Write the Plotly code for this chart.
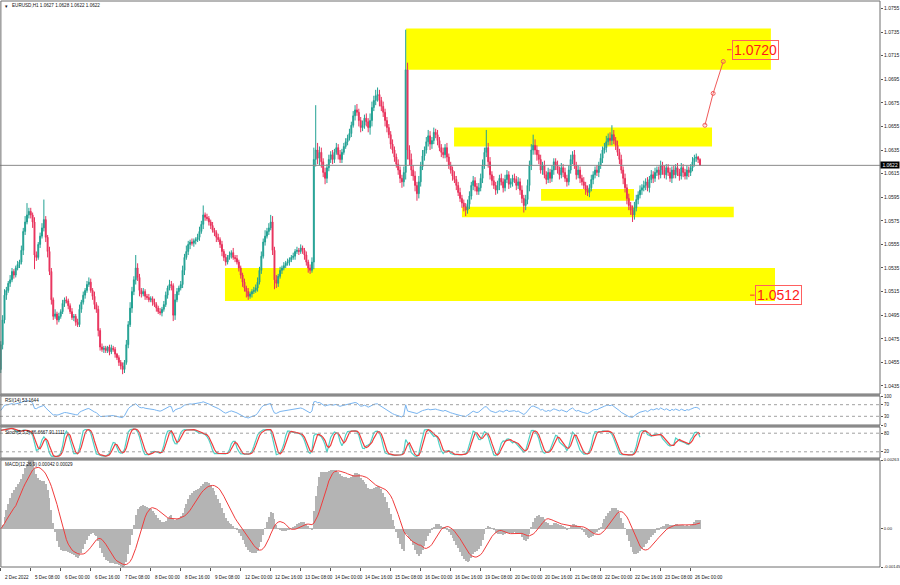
import numpy as np
import plotly.graph_objects as go

# ---------------- data ----------------
title_text = "EURUSD,H1 1.0627 1.0628 1.0622 1.0622"
rsi_label = "RSI(14) 53.1644"
stoch_label = "Stoch(5,3,3) 86.6667 91.1111"
macd_label = "MACD(12,26,9) 0.00042 0.00029"

first_open = 1.0449
close = [
    1.0470, 1.0491, 1.0512, 1.0516, 1.0522, 1.0525, 1.0532, 1.0529,
    1.0535, 1.0538, 1.0540, 1.0550, 1.0566, 1.0574, 1.0580, 1.0583,
    1.0580, 1.0574, 1.0546, 1.0544, 1.0555, 1.0562, 1.0569, 1.0576,
    1.0561, 1.0549, 1.0532, 1.0508, 1.0494, 1.0496, 1.0491, 1.0494,
    1.0498, 1.0505, 1.0508, 1.0507, 1.0503, 1.0498, 1.0493, 1.0494,
    1.0489, 1.0487, 1.0500, 1.0506, 1.0512, 1.0516, 1.0521, 1.0523,
    1.0516, 1.0511, 1.0504, 1.0500, 1.0482, 1.0468, 1.0466, 1.0467,
    1.0465, 1.0468, 1.0464, 1.0467, 1.0466, 1.0462, 1.0459, 1.0455,
    1.0452, 1.0449, 1.0455, 1.0470, 1.0487, 1.0501, 1.0515, 1.0525,
    1.0535, 1.0527, 1.0516, 1.0513, 1.0515, 1.0511, 1.0510, 1.0508,
    1.0509, 1.0506, 1.0504, 1.0501, 1.0498, 1.0497, 1.0500, 1.0504,
    1.0512, 1.0518, 1.0521, 1.0520, 1.0495, 1.0508, 1.0515, 1.0518,
    1.0521, 1.0533, 1.0544, 1.0549, 1.0555, 1.0557, 1.0556, 1.0558,
    1.0559, 1.0561, 1.0566, 1.0572, 1.0580, 1.0578, 1.0577, 1.0574,
    1.0571, 1.0567, 1.0565, 1.0561, 1.0559, 1.0555, 1.0549, 1.0544,
    1.0540, 1.0544, 1.0546, 1.0548, 1.0544, 1.0543, 1.0540, 1.0535,
    1.0529, 1.0523, 1.0518, 1.0515, 1.0511, 1.0513, 1.0515, 1.0516,
    1.0518, 1.0523, 1.0533, 1.0545, 1.0557, 1.0562, 1.0566, 1.0569,
    1.0574, 1.0550, 1.0525, 1.0522, 1.0528, 1.0533, 1.0535, 1.0537,
    1.0539, 1.0540, 1.0542, 1.0544, 1.0545, 1.0549, 1.0550, 1.0549,
    1.0552, 1.0550, 1.0546, 1.0540, 1.0535, 1.0533, 1.0540, 1.0627,
    1.0635, 1.0628, 1.0633, 1.0625, 1.0616, 1.0611, 1.0620, 1.0627,
    1.0631, 1.0627, 1.0633, 1.0637, 1.0631, 1.0627, 1.0633, 1.0638,
    1.0642, 1.0645, 1.0649, 1.0656, 1.0664, 1.0669, 1.0667, 1.0660,
    1.0654, 1.0656, 1.0662, 1.0659, 1.0654, 1.0660, 1.0671, 1.0677,
    1.0681, 1.0682, 1.0677, 1.0672, 1.0667, 1.0660, 1.0654, 1.0648,
    1.0640, 1.0635, 1.0629, 1.0623, 1.0618, 1.0611, 1.0608, 1.0616,
    1.0703, 1.0635, 1.0627, 1.0618, 1.0613, 1.0605, 1.0598, 1.0608,
    1.0621, 1.0630, 1.0635, 1.0642, 1.0647, 1.0640, 1.0643, 1.0650,
    1.0648, 1.0643, 1.0637, 1.0633, 1.0631, 1.0637, 1.0629, 1.0622,
    1.0618, 1.0613, 1.0610, 1.0605, 1.0599, 1.0594, 1.0590, 1.0587,
    1.0584, 1.0589, 1.0596, 1.0605, 1.0609, 1.0604, 1.0600, 1.0603,
    1.0611, 1.0622, 1.0633, 1.0637, 1.0625, 1.0614, 1.0609, 1.0605,
    1.0601, 1.0605, 1.0611, 1.0608, 1.0603, 1.0610, 1.0614, 1.0606,
    1.0608, 1.0611, 1.0610, 1.0605, 1.0608, 1.0601, 1.0594, 1.0588,
    1.0593, 1.0605, 1.0622, 1.0635, 1.0639, 1.0635, 1.0631, 1.0627,
    1.0618, 1.0622, 1.0614, 1.0610, 1.0616, 1.0611, 1.0618, 1.0625,
    1.0622, 1.0618, 1.0614, 1.0620, 1.0616, 1.0611, 1.0608, 1.0618,
    1.0627, 1.0631, 1.0622, 1.0614, 1.0618, 1.0611, 1.0608, 1.0605,
    1.0601, 1.0599, 1.0603, 1.0610, 1.0614, 1.0618, 1.0616, 1.0622,
    1.0628, 1.0635, 1.0637, 1.0642, 1.0645, 1.0643, 1.0648, 1.0643,
    1.0639, 1.0633, 1.0627, 1.0618, 1.0611, 1.0603, 1.0594, 1.0588,
    1.0584, 1.0580, 1.0586, 1.0593, 1.0597, 1.0601, 1.0603, 1.0605,
    1.0608, 1.0603, 1.0610, 1.0614, 1.0611, 1.0616, 1.0618, 1.0614,
    1.0622, 1.0618, 1.0614, 1.0620, 1.0616, 1.0611, 1.0618, 1.0614,
    1.0620, 1.0616, 1.0613, 1.0620, 1.0616, 1.0613, 1.0618, 1.0616,
    1.0620, 1.0625, 1.0628, 1.0629, 1.0627, 1.0622,
]
# estimated upper / lower wick lengths in pips, per bar
upper_wick_pips = [
    3, 4, 5, 3, 2, 4, 3, 2,  2, 3, 2, 4, 3, 5, 4, 3,  3, 2, 4, 3, 2, 3, 4, 2,
    3, 2, 4, 3, 2, 4, 2, 3,  2, 3, 2, 3, 2, 2, 3, 2,  2, 3, 4, 2, 3, 2, 3, 4,
    3, 2, 4, 2, 3, 2, 3, 2,  2, 1, 2, 3, 2, 2, 1, 2,  2, 3, 2, 4, 3, 5, 4, 3,
    3, 4, 3, 2, 3, 2, 2, 3,  2, 2, 3, 2, 2, 3, 2, 3,  3, 2, 4, 3, 2, 5, 3, 2,
    3, 4, 3, 5, 3, 2, 3, 2,  2, 3, 4, 3, 3, 2, 3, 2,  2, 3, 2, 2, 3, 2, 3, 2,
    3, 2, 3, 2, 4, 2, 3, 2,  2, 2, 3, 2, 3, 2, 2, 3,  3, 4, 3, 4, 3, 5, 3, 4,
    3, 5, 3, 4, 2, 3, 2, 3,  2, 3, 2, 2, 3, 2, 3, 2,  3, 2, 2, 3, 2, 3, 4, 5,
    4, 6, 5, 4, 3, 4, 3, 4,  3, 4, 3, 4, 3, 4, 3, 3,  3, 3, 4, 3, 4, 3, 5, 3,
    3, 4, 3, 4, 3, 6, 5, 4,  5, 6, 4, 3, 4, 3, 3, 3,  3, 4, 3, 3, 4, 3, 3, 5,
    5, 6, 4, 5, 4, 4, 3, 5,  4, 5, 3, 4, 5, 4, 3, 4,  3, 4, 3, 3, 4, 3, 4, 3,
    3, 3, 4, 3, 3, 4, 3, 3,  3, 4, 4, 3, 4, 3, 3, 4,  4, 5, 4, 5, 4, 4, 3, 4,
    3, 4, 3, 4, 3, 4, 4, 3,  3, 3, 4, 3, 4, 3, 4, 3,  4, 5, 4, 5, 4, 5, 4, 4,
    4, 3, 4, 3, 4, 3, 4, 3,  3, 4, 3, 4, 3, 4, 3, 4,  4, 3, 4, 3, 4, 3, 3, 4,
    3, 4, 3, 4, 3, 3, 4, 3,  4, 3, 4, 5, 4, 5, 4, 4,  3, 4, 3, 4, 3, 4, 3, 4,
    3, 4, 5, 4, 3, 4, 3, 4,  3, 4, 3, 4, 3, 4, 3, 3,  4, 3, 4, 3, 3, 4, 3, 4,
    3, 4, 3, 4, 3, 3, 4, 3,  3, 4, 3, 3, 1, 1,
]
lower_wick_pips = [
    3, 4, 3, 4, 2, 3, 2, 3,  2, 2, 3, 2, 4, 3, 2, 3,  3, 5, 4, 3, 2, 3, 2, 3,
    4, 5, 3, 4, 3, 2, 4, 2,  2, 2, 3, 2, 3, 2, 2, 3,  3, 2, 2, 3, 2, 3, 2, 2,
    2, 3, 4, 3, 5, 3, 2, 3,  2, 2, 3, 2, 2, 3, 2, 3,  3, 4, 3, 2, 3, 2, 4, 3,
    4, 3, 5, 3, 2, 3, 2, 2,  2, 3, 2, 3, 2, 2, 3, 2,  2, 3, 2, 4, 3, 4, 2, 3,
    2, 3, 4, 2, 3, 4, 2, 3,  3, 2, 3, 2, 4, 3, 2, 3,  3, 2, 3, 4, 2, 3, 4, 3,
    3, 2, 2, 3, 2, 3, 2, 3,  3, 4, 3, 5, 3, 2, 3, 2,  2, 3, 2, 3, 2, 3, 2, 3,
    2, 4, 3, 4, 3, 2, 3, 2,  2, 2, 3, 2, 2, 3, 2, 3,  2, 3, 4, 3, 4, 3, 2, 6,
    6, 5, 6, 5, 4, 5, 4, 3,  3, 4, 3, 2, 4, 3, 3, 2,  2, 3, 2, 3, 2, 4, 3, 5,
    4, 3, 3, 4, 4, 6, 5, 3,  4, 5, 5, 4, 4, 5, 4, 3,  4, 3, 4, 3, 4, 4, 5, 4,
    6, 8, 5, 5, 4, 5, 6, 4,  4, 3, 4, 3, 4, 5, 4, 3,  3, 4, 3, 4, 3, 3, 4, 3,
    3, 4, 3, 4, 3, 3, 4, 4,  4, 3, 4, 3, 4, 4, 3, 3,  3, 4, 3, 4, 5, 4, 4, 3,
    4, 3, 4, 3, 4, 3, 3, 4,  3, 4, 3, 4, 3, 4, 4, 3,  4, 4, 5, 4, 4, 4, 5, 4,
    3, 4, 3, 4, 3, 4, 3, 4,  4, 3, 4, 3, 4, 3, 4, 3,  3, 4, 3, 4, 3, 4, 3, 3,
    4, 3, 4, 3, 4, 3, 3, 4,  3, 4, 3, 4, 3, 4, 4, 3,  4, 3, 4, 3, 5, 4, 5, 4,
    4, 3, 4, 3, 4, 3, 4, 3,  4, 3, 4, 3, 4, 3, 3, 4,  3, 4, 3, 4, 3, 3, 4, 3,
    3, 3, 4, 3, 4, 3, 3, 4,  3, 3, 4, 3, 3, 0,
]
# clearly visible long wick extremes (bar index -> price)
high_ext = {14: 1.0590, 23: 1.0593, 72: 1.0546, 108: 1.0588, 144: 1.0580,
            167: 1.0637, 168: 1.0673, 189: 1.0673, 201: 1.0688, 216: 1.0737,
            259: 1.0652, 284: 1.0648, 326: 1.0656}
low_ext = {0: 1.0446, 18: 1.0534, 65: 1.0445, 92: 1.0490, 146: 1.0517,
           222: 1.0593, 248: 1.0579, 279: 1.0582, 337: 1.0574}

x_tick_idx = [0, 16, 32, 48, 64, 80, 96, 112, 128, 144, 160, 176, 192, 208,
              224, 240, 256, 272, 288, 304, 320, 336, 352, 368]
x_tick_text = ["2 Dec 2022", "5 Dec 08:00", "6 Dec 00:00", "6 Dec 16:00",
               "7 Dec 08:00", "8 Dec 00:00", "8 Dec 16:00", "9 Dec 08:00",
               "12 Dec 00:00", "12 Dec 16:00", "13 Dec 08:00", "14 Dec 00:00",
               "14 Dec 16:00", "15 Dec 08:00", "16 Dec 00:00", "16 Dec 16:00",
               "19 Dec 08:00", "20 Dec 00:00", "20 Dec 16:00", "21 Dec 08:00",
               "22 Dec 00:00", "22 Dec 16:00", "23 Dec 08:00", "26 Dec 00:00"]

price_ticks = [1.0435, 1.0455, 1.0475, 1.0495, 1.0515, 1.0535, 1.0555, 1.0575,
               1.0595, 1.0615, 1.0635, 1.0655, 1.0675, 1.0695, 1.0715, 1.0735, 1.0755]
price_tick_text = ["1.0435", "1.0455", "1.0475", "1.0495", "1.0515", "1.0535",
                   "1.0555", "1.0575", "1.0595", "1.0615", "1.0635", "1.0655",
                   "1.0675", "1.0695", "1.0715", "1.0735", "1.0755"]
current_price = 1.0622

# yellow zones: bar-index extent and price extent
zone_x0 = [216.2, 241.8, 288.2, 246.0, 119.6]
zone_x1 = [410.8, 379.4, 337.8, 391.0, 413.0]
zone_lo = [1.0703, 1.0638, 1.0592, 1.0578, 1.0507]
zone_hi = [1.0738, 1.0654, 1.0602, 1.0587, 1.0535]

# projected path drawing
path_idx = [375.6, 380.0, 385.4]
path_price = [1.0656, 1.0683, 1.0710]

# price level labels
level_values = [1.0720, 1.0512]
level_text = ["1.0720", "1.0512"]
level_label_idx = [390.0, 402.3]

macd_ticks = [0.00263, 0.0, -0.00145]
macd_tick_text = ["0.00263", "0.00", "-0.00145"]

# ---------------- derived series ----------------
n = len(close)
idx = np.arange(n)
c = np.array(close)
o = np.concatenate([[first_open], c[:-1]])
h = np.maximum(o, c) + np.array(upper_wick_pips) * 0.0001
l = np.minimum(o, c) - np.array(lower_wick_pips) * 0.0001
for k, v in high_ext.items():
    h[k] = max(h[k], v)
for k, v in low_ext.items():
    l[k] = min(l[k], v)


def ema(a, p):
    al = 2.0 / (p + 1)
    out = np.empty_like(a)
    out[0] = a[0]
    for i in range(1, len(a)):
        out[i] = al * a[i] + (1 - al) * out[i - 1]
    return out


def sma(a, p):
    out = np.empty_like(a)
    for i in range(len(a)):
        out[i] = a[max(0, i - p + 1): i + 1].mean()
    return out


macd = ema(c, 12) - ema(c, 26)
signal = sma(macd, 9)

# RSI 14 (Wilder)
d = np.diff(c, prepend=c[0])
gain = np.where(d > 0, d, 0.0)
loss = np.where(d < 0, -d, 0.0)
ag = np.empty(n); al_ = np.empty(n)
ag[0] = 0.0003; al_[0] = 0.0003
for i in range(1, n):
    ag[i] = (ag[i - 1] * 13 + gain[i]) / 14
    al_[i] = (al_[i - 1] * 13 + loss[i]) / 14
rsi = 100 - 100 / (1 + ag / np.maximum(al_, 1e-9))

# Stochastic 5,3,3
num = np.empty(n); den = np.empty(n)
for i in range(n):
    lo5 = l[max(0, i - 4): i + 1].min()
    hi5 = h[max(0, i - 4): i + 1].max()
    num[i] = c[i] - lo5
    den[i] = hi5 - lo5
k_line = np.empty(n)
for i in range(n):
    s_n = num[max(0, i - 2): i + 1].sum()
    s_d = den[max(0, i - 2): i + 1].sum()
    k_line[i] = 100 * s_n / s_d if s_d > 0 else 50
d_line = sma(k_line, 3)

# ---------------- layout helpers (pixel geometry) ----------------
W, H = 900, 585
PT, PB = 1, 567
PLOT_W = 880


def fy(p):
    return (PB - p) / (PB - PT)


def fx(p):
    return p / PLOT_W


main_dom = [fy(394), 1.0]
rsi_dom = [fy(425), fy(396)]
sto_dom = [fy(458), fy(427)]
macd_dom = [0.0, fy(460)]

UP = "#22a193"
DN = "#e8325c"
FONT = "Liberation Sans"

fig = go.Figure()

fig.add_trace(go.Candlestick(
    x=idx, open=o, high=h, low=l, close=c,
    increasing=dict(line=dict(color=UP, width=1), fillcolor=UP),
    decreasing=dict(line=dict(color=DN, width=1), fillcolor=DN),
    whiskerwidth=0, xaxis="x", yaxis="y", showlegend=False, hoverinfo="skip"))

fig.add_trace(go.Scatter(
    x=path_idx, y=path_price, mode="lines+markers", xaxis="x", yaxis="y",
    line=dict(color="#f05a5a", width=1),
    marker=dict(symbol="circle-open", size=4, color="#f05a5a", line=dict(width=1)),
    showlegend=False, hoverinfo="skip"))

fig.add_trace(go.Scatter(x=idx, y=rsi, mode="lines", xaxis="x", yaxis="y2",
                         line=dict(color="#78b4f0", width=1), showlegend=False))
fig.add_trace(go.Scatter(x=idx, y=k_line, mode="lines", xaxis="x", yaxis="y3",
                         line=dict(color="#4fd1c5", width=1.2), showlegend=False))
fig.add_trace(go.Scatter(x=idx, y=d_line, mode="lines", xaxis="x", yaxis="y3",
                         line=dict(color="#f03c3c", width=1.2), showlegend=False))
fig.add_trace(go.Bar(x=idx, y=macd, xaxis="x", yaxis="y4", width=0.5,
                     marker=dict(color="#b4b4b4", line=dict(width=0)), showlegend=False))
fig.add_trace(go.Scatter(x=idx, y=signal, mode="lines", xaxis="x", yaxis="y4",
                         line=dict(color="#f03c3c", width=1), showlegend=False))

shapes = []
for x0, x1, lo, hi in zip(zone_x0, zone_x1, zone_lo, zone_hi):
    shapes.append(dict(type="rect", xref="x", yref="y", x0=x0, x1=x1, y0=lo, y1=hi,
                       fillcolor="#ffff00", line=dict(width=0), layer="below"))
shapes.append(dict(type="line", xref="paper", yref="y", x0=0, x1=1,
                   y0=current_price, y1=current_price, line=dict(color="#8a8a8a", width=1)))
# level label ticks
for xi, v in zip(level_label_idx, level_values):
    shapes.append(dict(type="line", xref="x", yref="y", x0=xi - 2.6, x1=xi - 0.2, y0=v, y1=v,
                       line=dict(color="#ff3030", width=1)))
# dotted levels
for v in (70, 30):
    shapes.append(dict(type="line", xref="paper", yref="y2", x0=0, x1=1, y0=v, y1=v,
                       line=dict(color="#a0a0a0", width=1, dash="dot")))
for v in (80, 20):
    shapes.append(dict(type="line", xref="paper", yref="y3", x0=0, x1=1, y0=v, y1=v,
                       line=dict(color="#a0a0a0", width=1, dash="dot")))
# panel frames
for dom in (main_dom, rsi_dom, sto_dom, macd_dom):
    shapes.append(dict(type="rect", xref="paper", yref="paper", x0=0.001, x1=1,
                       y0=dom[0], y1=dom[1], line=dict(color="#6e6e6e", width=1),
                       fillcolor="rgba(0,0,0,0)"))
# separator bands between panels
for top, bot in ((394, 396), (425, 427), (458, 460)):
    shapes.append(dict(type="rect", xref="paper", yref="paper", x0=0, x1=1,
                       y0=fy(bot), y1=fy(top), line=dict(width=0), fillcolor="#8a8a8a"))

annotations = []
tf = dict(family=FONT, size=5, color="#111111")
annotations.append(dict(xref="paper", yref="paper", x=fx(3), y=fy(6), text="▾",
                        showarrow=False, xanchor="left", yanchor="middle", font=tf))
annotations.append(dict(xref="paper", yref="paper", x=fx(10), y=fy(6), text=title_text,
                        showarrow=False, xanchor="left", yanchor="middle",
                        font=dict(family=FONT, size=4.6, color="#111111")))
for txt, py in ((rsi_label, 400), (stoch_label, 432), (macd_label, 464)):
    annotations.append(dict(xref="paper", yref="paper", x=fx(3), y=fy(py), text=txt,
                            showarrow=False, xanchor="left", yanchor="middle",
                            font=dict(family=FONT, size=4.6, color="#111111")))
for xi, t in zip(x_tick_idx, x_tick_text):
    annotations.append(dict(xref="x", yref="paper", x=xi + 1.0, y=fy(577), text=t,
                            showarrow=False, xanchor="left", yanchor="middle",
                            font=dict(family=FONT, size=4.6, color="#111111")))
annotations.append(dict(xref="paper", yref="y", x=1.0, y=current_price, text=" 1.0622 ",
                        showarrow=False, xanchor="left", yanchor="middle", bgcolor="#000000",
                        font=dict(family=FONT, size=5, color="#ffffff"), borderpad=0))
for xi, v, t in zip(level_label_idx, level_values, level_text):
    annotations.append(dict(xref="x", yref="y", x=xi, y=v, text=t, showarrow=False,
                            xanchor="left", yanchor="middle",
                            font=dict(family=FONT, size=14, color="#ff1a1a"),
                            bordercolor="#ff6060", borderwidth=1, borderpad=1))

axis_common = dict(showgrid=False, zeroline=False, automargin=False, showline=False)
fig.update_layout(
    width=W, height=H,
    margin=dict(l=0, r=W - PLOT_W, t=PT, b=H - PB, pad=0),
    paper_bgcolor="white", plot_bgcolor="white",
    template="none", showlegend=False, bargap=0,
    shapes=shapes, annotations=annotations,
    xaxis=dict(range=[-0.4, 469.0], domain=[0, 1], anchor="y4", showticklabels=False,
               ticks="outside", ticklen=3, tickcolor="#555555", tickvals=x_tick_idx,
               rangeslider=dict(visible=False), **axis_common),
    yaxis=dict(domain=main_dom, range=[1.04282, 1.07613], side="right", anchor="x",
               tickvals=price_ticks, ticktext=price_tick_text, ticks="outside", ticklen=2,
               tickcolor="#555555", tickfont=dict(family=FONT, size=5, color="#222222"),
               **axis_common),
    yaxis2=dict(domain=rsi_dom, range=[0, 100], side="right", anchor="x",
                tickvals=[100, 70, 30, 0], ticktext=["100", "70", "30", "0"], ticks="outside",
                ticklen=2, tickcolor="#555555", tickfont=dict(family=FONT, size=4.5, color="#222222"),
                **axis_common),
    yaxis3=dict(domain=sto_dom, range=[0, 100], side="right", anchor="x",
                tickvals=[80, 20], ticktext=["80", "20"], ticks="outside",
                ticklen=2, tickcolor="#555555", tickfont=dict(family=FONT, size=4.5, color="#222222"),
                **axis_common),
    yaxis4=dict(domain=macd_dom, range=[-0.00145, 0.00263], side="right", anchor="x",
                tickvals=macd_ticks, ticktext=macd_tick_text, ticks="outside",
                ticklen=2, tickcolor="#555555", tickfont=dict(family=FONT, size=4.2, color="#222222"),
                **axis_common),
)

fig.write_html("out.html", config={"displayModeBar": False},
               post_script="document.body.style.margin='0';document.body.style.padding='0';")
